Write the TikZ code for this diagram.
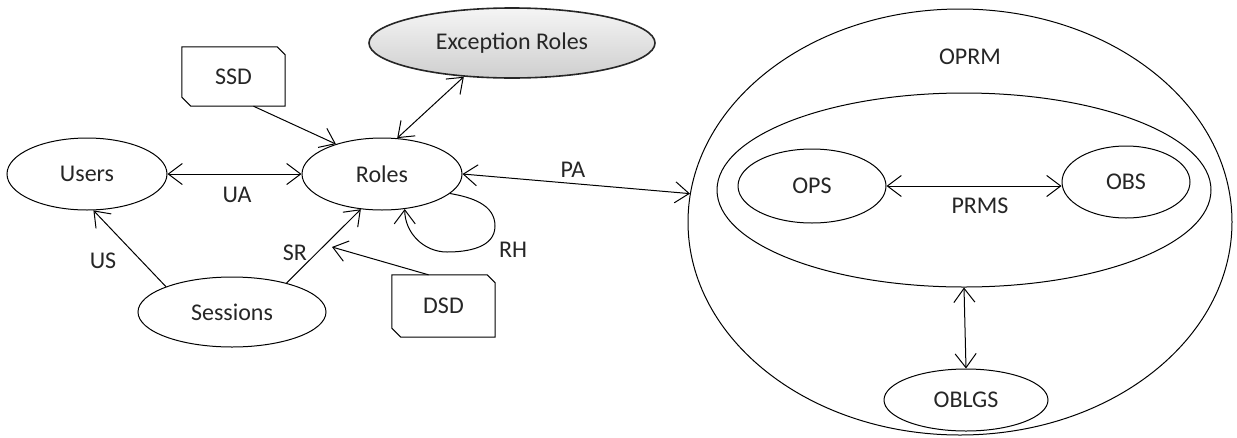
\documentclass[tikz,border=0pt]{standalone}
\usepackage{fontspec}
\setmainfont{Carlito}
\usetikzlibrary{arrows.meta,shapes.geometric,calc}

\definecolor{txt}{HTML}{262626}

\tikzset{
  every node/.style={font=\fontsize{24}{29}\selectfont, text=txt},
  oval/.style={ellipse, draw=black, line width=1pt, inner sep=0pt},
  snipbox/.style={rectangle, inner sep=0pt},
  lbl/.style={inner sep=0pt},
  arr/.style={line width=1pt, -{Straight Barb[length=14pt,width=21pt]}},
  biarr/.style={line width=1pt, {Straight Barb[length=14pt,width=21pt]}-{Straight Barb[length=14pt,width=21pt]}},
  shadedoval/.style={ellipse, draw=black!85, line width=1.6pt, inner sep=0pt,
    top color=gray!8, bottom color=gray!38},
}

\begin{document}
\begin{tikzpicture}[x=1pt, y=-1pt]
  \useasboundingbox (0,0) rectangle (1237,437);

  % role-based part
  \node[oval, minimum width=160pt, minimum height=72pt] (users) at (87,174) {Users};
  \node[oval, minimum width=160pt, minimum height=72pt] (roles) at (382,174) {Roles};
  \node[oval, minimum width=188pt, minimum height=70pt] (sessions) at (232,312) {Sessions};
  \node[shadedoval, minimum width=286pt, minimum height=70pt] (exroles) at (512,43) {Exception Roles};

  % constraint boxes with two snipped corners
  \node[snipbox, minimum width=103pt, minimum height=59pt] (ssd) at (233.5,76.5) {SSD};
  \node[snipbox, minimum width=103pt, minimum height=62pt] (dsd) at (443.5,306) {DSD};
  \foreach \b in {ssd,dsd}{
    \draw[line width=1pt]
      (\b.north west) -- ($(\b.north east)+(-8,0)$) -- ($(\b.north east)+(0,8)$)
      -- (\b.south east) -- ($(\b.south west)+(9,0)$) -- ($(\b.south west)+(0,-9)$)
      -- cycle;
  }

  % permission part
  \node[oval, minimum width=544pt, minimum height=426pt] (oprm) at (960,222) {};
  \node[lbl] (oprmlbl) at (970,57) {OPRM};
  \node[oval, minimum width=494pt, minimum height=194pt] (prms) at (964,190) {};
  \node[oval, minimum width=148pt, minimum height=74pt] (ops) at (812,186) {OPS};
  \node[oval, minimum width=128pt, minimum height=72pt] (obs) at (1126,182) {OBS};
  \node[oval, minimum width=164pt, minimum height=62pt] (oblgs) at (966,400) {OBLGS};

  % relations
  \draw[biarr] (users.east) -- (roles.west);
  \node[lbl] (ua) at (237,195) {UA};

  \draw[arr] ($(ssd.south)+(20,0)$) -- (roles.147);
  \draw[biarr] (exroles.215) -- (roles.67);

  \draw[biarr] (roles.east) -- (oprm.174);
  \node[lbl] (pa) at (573,170) {PA};

  \draw[arr] (sessions.159) -- (users.280);
  \node[lbl] (us) at (103,261) {US};

  \draw[arr] (sessions.28) -- (roles.239);
  \node[lbl] (sr) at (295,253) {SR};

  \coordinate (dsdend) at (332,247);
  \draw[arr] ($(dsd.north)+(-15,0)$) -- (dsdend);

  \coordinate (rhright) at (495,226);
  \coordinate (rhbottom) at (447,252);
  \draw[arr] (roles.344) to[out=-10,in=90] (rhright)
    to[out=-90,in=0] (rhbottom) to[out=180,in=-90] (roles.303);
  \node[lbl] (rh) at (513,250) {RH};

  \draw[biarr] (ops.east) -- (ops.east -| obs.west);
  \node[lbl] (prmslbl) at (980,206) {PRMS};

  \draw[biarr] (prms.south) -- (oblgs.north);
\end{tikzpicture}
\end{document}
